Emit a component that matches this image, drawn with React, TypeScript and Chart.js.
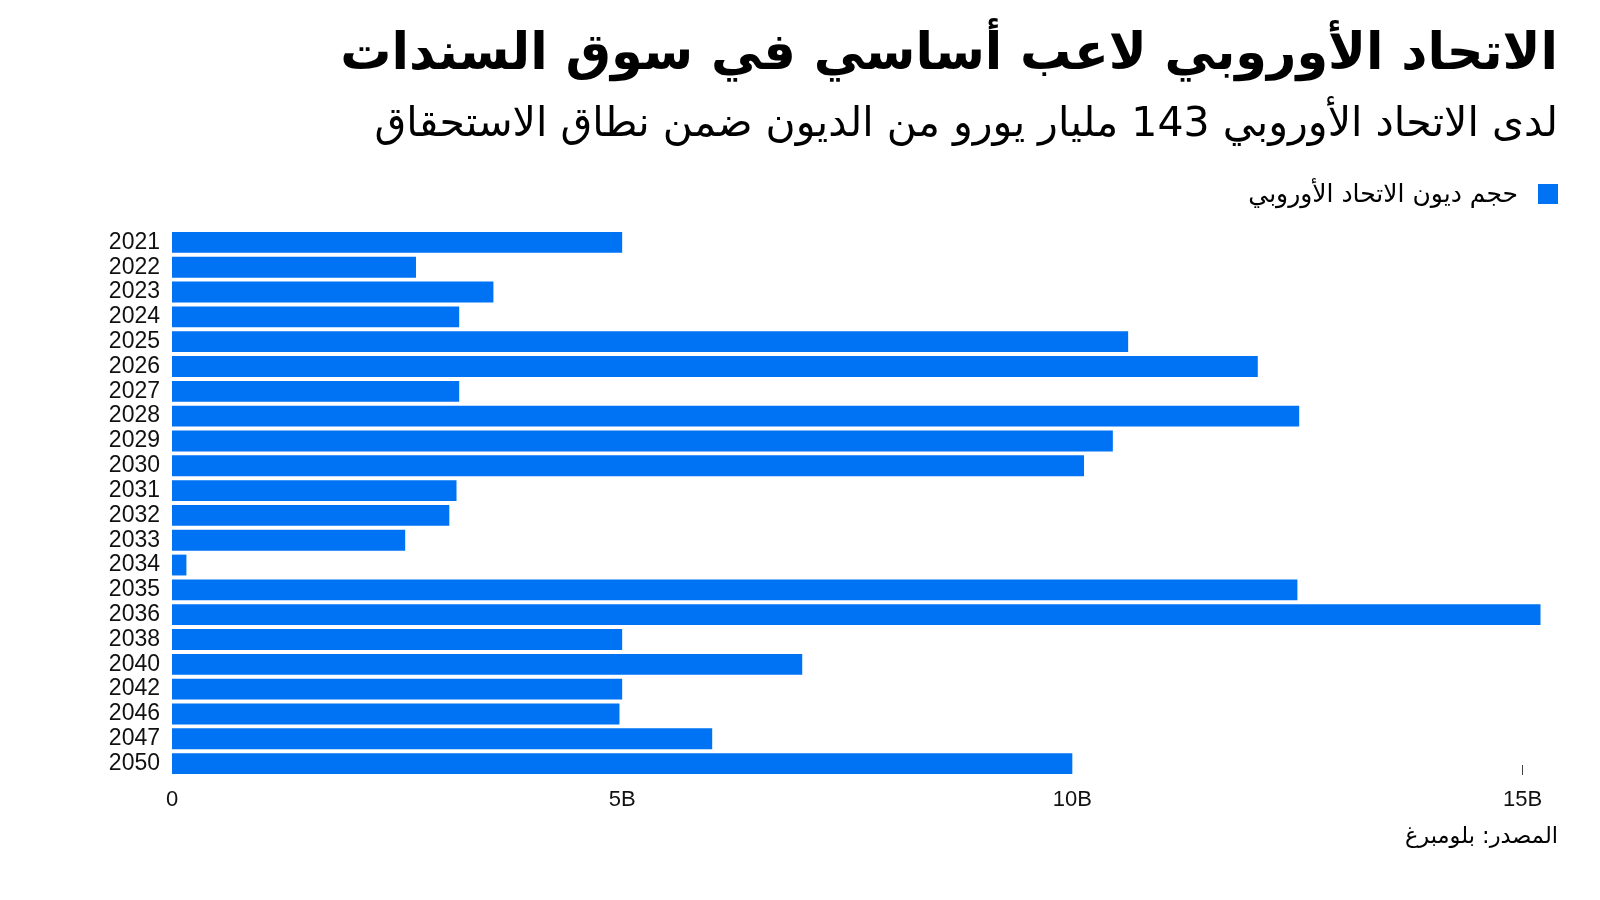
import React, { useEffect, useRef } from "react";
import { Chart, registerables } from "chart.js";

Chart.register(...registerables);

const TITLE = "الاتحاد الأوروبي لاعب أساسي في سوق السندات";
const SUBTITLE = "لدى الاتحاد الأوروبي 143 مليار يورو من الديون ضمن نطاق الاستحقاق";
const LEGEND_LABEL = "حجم ديون الاتحاد الأوروبي";
const SOURCE = "المصدر: بلومبرغ";

const years = [
  "2021", "2022", "2023", "2024", "2025", "2026", "2027", "2028", "2029", "2030",
  "2031", "2032", "2033", "2034", "2035", "2036", "2038", "2040", "2042", "2046",
  "2047", "2050",
];
// billions of euros
const debtBillions = [
  5.0, 2.71, 3.57, 3.19, 10.62, 12.06, 3.19, 12.52, 10.45, 10.13,
  3.16, 3.08, 2.59, 0.16, 12.5, 15.2, 5.0, 7.0, 5.0, 4.97,
  6.0, 10.0,
];
const xTicks = [0, 5, 10, 15];
const xTickLabels = ["0", "5B", "10B", "15B"];

const BLUE = "#0073F5";
const AR_FONT = "'DejaVu Sans', 'Noto Sans', sans-serif";
const NUM_FONT = "'Liberation Sans', Arial, sans-serif";

const lastTickPlugin = {
  id: "lastTick",
  afterDraw(chart: any) {
    const xs = chart.scales.x;
    const area = chart.chartArea;
    const x = Math.round(xs.getPixelForValue(xTicks[xTicks.length - 1])) + 0.5;
    const ctx = chart.ctx;
    ctx.save();
    ctx.strokeStyle = "#444";
    ctx.lineWidth = 1;
    ctx.beginPath();
    ctx.moveTo(x, area.bottom - 11);
    ctx.lineTo(x, area.bottom - 1);
    ctx.stroke();
    ctx.restore();
  },
};

export default function App() {
  const canvasRef = useRef<HTMLCanvasElement | null>(null);

  useEffect(() => {
    const canvas = canvasRef.current;
    if (!canvas) return;
    const chart = new Chart(canvas, {
      type: "bar",
      data: {
        labels: years,
        datasets: [
          {
            label: LEGEND_LABEL,
            data: debtBillions,
            backgroundColor: BLUE,
            borderWidth: 0,
            barPercentage: 0.84,
            categoryPercentage: 1,
          },
        ],
      },
      options: {
        indexAxis: "y",
        animation: false,
        responsive: false,
        maintainAspectRatio: false,
        devicePixelRatio: 1,
        layout: { padding: { top: 230, right: 55, left: 0, bottom: 84 } },
        plugins: {
          legend: { display: false },
          tooltip: { enabled: false },
          title: { display: false },
        },
        scales: {
          x: {
            type: "linear",
            min: 0,
            max: 15.25,
            afterBuildTicks(axis: any) {
              axis.ticks = xTicks.map((v) => ({ value: v }));
            },
            afterFit(axis: any) {
              axis.height = 40;
            },
            grid: { display: false, drawTicks: false },
            border: { display: false },
            ticks: {
              padding: 11,
              color: "#111",
              font: { family: NUM_FONT, size: 22 },
              maxRotation: 0,
              autoSkip: false,
              callback: (v: any) => {
                const i = xTicks.indexOf(Number(v));
                return i >= 0 ? xTickLabels[i] : "";
              },
            },
          },
          y: {
            afterFit(axis: any) {
              axis.width = 172;
            },
            grid: { display: false, drawTicks: false },
            border: { display: false },
            ticks: {
              padding: 12,
              color: "#111",
              autoSkip: false,
              font: { family: NUM_FONT, size: 23 },
            },
          },
        },
      },
      plugins: [lastTickPlugin],
    } as any);
    return () => chart.destroy();
  }, []);

  const textBase: React.CSSProperties = {
    position: "absolute",
    right: 42,
    direction: "rtl",
    whiteSpace: "nowrap",
    color: "#000",
    fontFamily: AR_FONT,
    margin: 0,
  };

  return (
    <div
      style={{
        position: "fixed",
        left: 0,
        top: 0,
        width: 1600,
        height: 900,
        background: "#fff",
        overflow: "hidden",
      }}
    >
      <canvas
        ref={canvasRef}
        width={1600}
        height={900}
        style={{ position: "absolute", left: 0, top: 0, width: 1600, height: 900 }}
      />
      <div style={{ ...textBase, top: 20, fontSize: 51, fontWeight: 700, lineHeight: "64px" }}>
        {TITLE}
      </div>
      <div style={{ ...textBase, top: 95, fontSize: 41, fontWeight: 400, lineHeight: "54px" }}>
        {SUBTITLE}
      </div>
      <div
        style={{
          ...textBase,
          top: 177,
          fontSize: 25,
          lineHeight: "34px",
          display: "flex",
          alignItems: "center",
          gap: 20,
        }}
      >
        <span
          style={{ display: "inline-block", width: 20, height: 20, background: BLUE }}
        />
        <span>{LEGEND_LABEL}</span>
      </div>
      <div style={{ ...textBase, top: 818, fontSize: 22.5, lineHeight: "34px" }}>{SOURCE}</div>
    </div>
  );
}
